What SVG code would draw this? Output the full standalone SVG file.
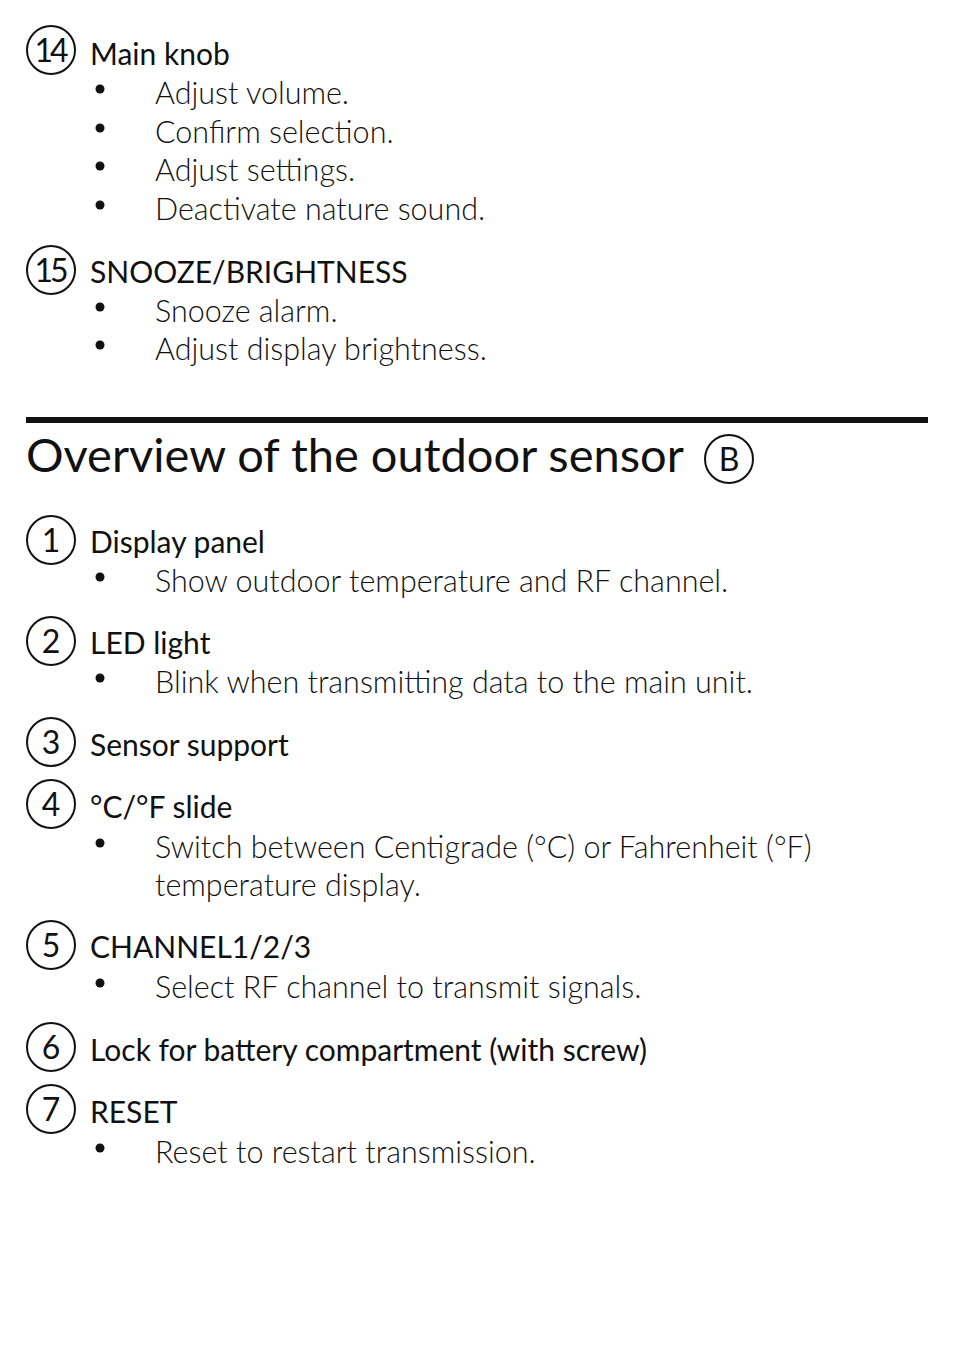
<svg xmlns="http://www.w3.org/2000/svg" width="954" height="1354" viewBox="0 0 954 1354">
<style>
.t{font-family:Lato,"Open Sans",sans-serif;font-size:30px;fill:#111}
.d{font-family:Lato,"Open Sans",sans-serif;font-size:30.5px;font-weight:300;fill:#111}
.n{font-family:Lato,"Open Sans",sans-serif;font-size:32px;font-weight:400;fill:#111;text-anchor:middle}
.nn{letter-spacing:-3px}
.c{fill:none;stroke:#111;stroke-width:2}
.b{fill:#111}
</style>
<rect width="954" height="1354" fill="#fff"/>
<g id="item14">
<circle class="c" cx="51" cy="50" r="24"/><text class="n nn" x="50" y="62">14</text>
<text class="t" x="90" y="65">Main knob</text>
<circle class="b" cx="100" cy="89" r="4.5"/><text class="d" x="155" y="104">Adjust volume.</text>
<circle class="b" cx="100" cy="128" r="4.5"/><text class="d" x="155" y="143">Confirm selection.</text>
<circle class="b" cx="100" cy="166" r="4.5"/><text class="d" x="155" y="181">Adjust settings.</text>
<circle class="b" cx="100" cy="205" r="4.5"/><text class="d" x="155" y="220">Deactivate nature sound.</text>
</g>
<g id="item15">
<circle class="c" cx="51" cy="270" r="24"/><text class="n nn" x="50" y="282">15</text>
<text class="t" x="90" y="283">SNOOZE/BRIGHTNESS</text>
<circle class="b" cx="100" cy="307" r="4.5"/><text class="d" x="155" y="322">Snooze alarm.</text>
<circle class="b" cx="100" cy="345" r="4.5"/><text class="d" x="155" y="360">Adjust display brightness.</text>
</g>
<rect x="26" y="417" width="902" height="6" fill="#111"/>
<g id="heading">
<text class="d" style="font-size:47px;font-weight:400" x="26" y="472">Overview of the outdoor sensor</text>
<circle class="c" cx="729" cy="459" r="24"/><text class="n" x="729" y="471">B</text>
</g>
<g id="item1">
<circle class="c" cx="51" cy="540" r="24"/><text class="n" x="51" y="552">1</text>
<text class="t" x="90" y="553">Display panel</text>
<circle class="b" cx="100" cy="577" r="4.5"/><text class="d" x="155" y="592">Show outdoor temperature and RF channel.</text>
</g>
<g id="item2">
<circle class="c" cx="51" cy="641" r="24"/><text class="n" x="51" y="653">2</text>
<text class="t" x="90" y="654">LED light</text>
<circle class="b" cx="100" cy="678" r="4.5"/><text class="d" x="155" y="693">Blink when transmitting data to the main unit.</text>
</g>
<g id="item3">
<circle class="c" cx="51" cy="742" r="24"/><text class="n" x="51" y="754">3</text>
<text class="t" x="90" y="756">Sensor support</text>
</g>
<g id="item4">
<circle class="c" cx="51" cy="804" r="24"/><text class="n" x="51" y="816">4</text>
<text class="t" x="90" y="818">°C/°F slide</text>
<circle class="b" cx="100" cy="843" r="4.5"/><text class="d" x="155" y="858">Switch between Centigrade (°C) or Fahrenheit (°F)</text>
<text class="d" x="155" y="896">temperature display.</text>
</g>
<g id="item5">
<circle class="c" cx="51" cy="945" r="24"/><text class="n" x="51" y="957">5</text>
<text class="t" x="90" y="958">CHANNEL1/2/3</text>
<circle class="b" cx="100" cy="983" r="4.5"/><text class="d" x="155" y="998">Select RF channel to transmit signals.</text>
</g>
<g id="item6">
<circle class="c" cx="51" cy="1047" r="24"/><text class="n" x="51" y="1059">6</text>
<text class="t" x="90" y="1061">Lock for battery compartment (with screw)</text>
</g>
<g id="item7">
<circle class="c" cx="51" cy="1109" r="24"/><text class="n" x="51" y="1121">7</text>
<text class="t" x="90" y="1123">RESET</text>
<circle class="b" cx="100" cy="1148" r="4.5"/><text class="d" x="155" y="1163">Reset to restart transmission.</text>
</g>
</svg>
